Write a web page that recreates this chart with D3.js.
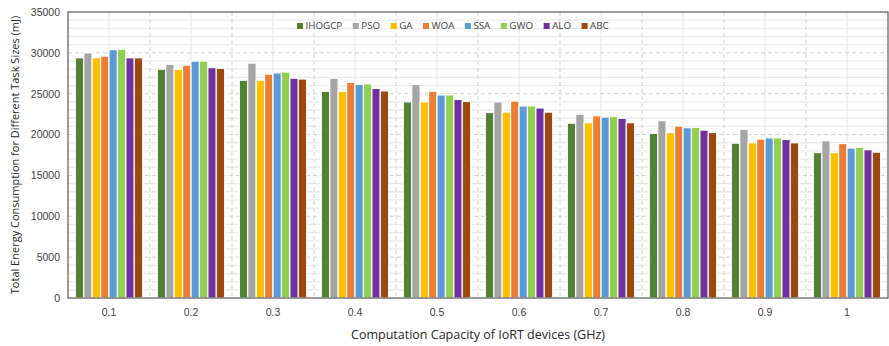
<!DOCTYPE html>
<html><head><meta charset="utf-8">
<script src="https://cdn.jsdelivr.net/npm/d3@7"></script>
<style>body{margin:0;background:#fff;} svg{display:block;font-family:"Open Sans","Noto Sans",sans-serif;}</style>
</head><body><svg id="c" width="889" height="346"></svg>
<script>
const categories = ["0.1","0.2","0.3","0.4","0.5","0.6","0.7","0.8","0.9","1"];
const seriesNames = ["IHOGCP","PSO","GA","WOA","SSA","GWO","ALO","ABC"];
const seriesColors = ["#548235","#A5A5A5","#FFC000","#ED7D31","#5B9BD5","#92D050","#7030A0","#9E480E"];
const IHOGCP = [29400,28000,26650,25300,24000,22700,21400,20150,18950,17800];
const PSO    = [30000,28600,28750,26900,26150,24000,22500,21700,20650,19250];
const GA     = [29400,28000,26650,25300,24000,22750,21450,20250,19000,17800];
const WOA    = [29600,28500,27400,26400,25300,24100,22300,21050,19450,18900];
const SSA    = [30400,29000,27550,26150,24850,23500,22150,20850,19600,18350];
const GWO    = [30450,29000,27650,26200,24850,23500,22200,20900,19600,18450];
const ALO    = [29400,28200,26900,25650,24300,23250,22000,20550,19400,18150];
const ABC    = [29400,28100,26800,25350,24050,22750,21450,20250,19000,17850];
const seriesValues = [IHOGCP,PSO,GA,WOA,SSA,GWO,ALO,ABC];
const yTicks = [0,5000,10000,15000,20000,25000,30000,35000];
const yMinorTicks = d3.range(0,35001,1000);
const xTitle = "Computation Capacity of IoRT devices (GHz)";
const yTitle = "Total Energy Consumption for Different Task Sizes (mJ)";

const svg = d3.select("#c");
const L=68,R=888,T=12,B=298;
const x0 = d3.scaleBand().domain(categories).range([L,R]).paddingInner(0.178).paddingOuter(0.089);
const x1 = d3.scaleBand().domain(seriesNames).range([0,x0.bandwidth()]);
const y = d3.scaleLinear().domain([0,35000]).range([B,T]);
const step = x0.step();

const g = svg.append("g");
g.selectAll(".hmin").data(yMinorTicks.filter(v=>v%5000!==0)).join("line")
 .attr("x1",L).attr("x2",R).attr("y1",d=>y(d)).attr("y2",d=>y(d))
 .attr("stroke","#ebebeb").attr("stroke-width",1.3);
g.selectAll(".vmin").data(categories).join("line")
 .attr("x1",d=>x0(d)+x0.bandwidth()/2).attr("x2",d=>x0(d)+x0.bandwidth()/2).attr("y1",T).attr("y2",B)
 .attr("stroke","#ebebeb").attr("stroke-width",1.3);
g.selectAll(".hmaj").data(yTicks.filter(v=>v>0&&v<35000)).join("line")
 .attr("x1",L).attr("x2",R).attr("y1",d=>y(d)).attr("y2",d=>y(d))
 .attr("stroke","#d0d0d0").attr("stroke-width",1).attr("stroke-dasharray","4,3");
g.selectAll(".vmaj").data(categories.slice(1)).join("line")
 .attr("x1",d=>x0(d)-step*0.089).attr("x2",d=>x0(d)-step*0.089).attr("y1",T).attr("y2",B)
 .attr("stroke","#d0d0d0").attr("stroke-width",1).attr("stroke-dasharray","4,3");

const groups = svg.append("g").selectAll("g").data(categories).join("g")
 .attr("transform",d=>`translate(${x0(d)},0)`);
groups.selectAll("rect").data((c,ci)=>seriesNames.map((s,si)=>({s,si,v:seriesValues[si][ci]}))).join("rect")
 .attr("x",d=>x1(d.s)).attr("width",x1.bandwidth())
 .attr("y",d=>y(d.v)).attr("height",d=>y(0)-y(d.v))
 .attr("fill",d=>seriesColors[d.si]).attr("stroke","#fff").attr("stroke-width",1.2);

svg.append("rect").attr("x",L).attr("y",T).attr("width",R-L).attr("height",B-T)
 .attr("fill","none").attr("stroke","#595959").attr("stroke-width",1.2);

const ya = svg.append("g").attr("transform",`translate(${L},0)`)
 .call(d3.axisLeft(y).tickValues(yTicks).tickFormat(d3.format("d")).tickSize(0).tickPadding(8));
ya.select(".domain").remove();
ya.selectAll("text").attr("font-size",10.5).attr("fill","#404040").style("font-family","inherit");

const xa = svg.append("g").attr("transform",`translate(0,${B})`)
 .call(d3.axisBottom(x0).tickSize(0).tickPadding(11));
xa.select(".domain").remove();
xa.selectAll("text").attr("font-size",10.5).attr("fill","#404040").style("font-family","inherit");

svg.append("text").attr("x",(L+R)/2).attr("y",339).attr("text-anchor","middle")
 .attr("font-size",12.5).attr("fill","#262626").text(xTitle);
svg.append("text").attr("transform",`translate(19,${(T+B)/2}) rotate(-90)`).attr("text-anchor","middle")
 .attr("font-size",11).attr("fill","#262626").text(yTitle);

const leg = svg.append("g").attr("transform","translate(297,26)");
let lx = 0;
seriesNames.forEach((s,i)=>{
  leg.append("rect").attr("x",lx).attr("y",-3).attr("width",6).attr("height",6).attr("fill",seriesColors[i]);
  const t = leg.append("text").attr("x",lx+8.5).attr("y",0).attr("dy","0.35em")
   .attr("font-size",9.8).attr("fill","#404040").text(s);
  lx += 8.5 + t.node().getComputedTextLength() + 10.5;
});
</script></body></html>
